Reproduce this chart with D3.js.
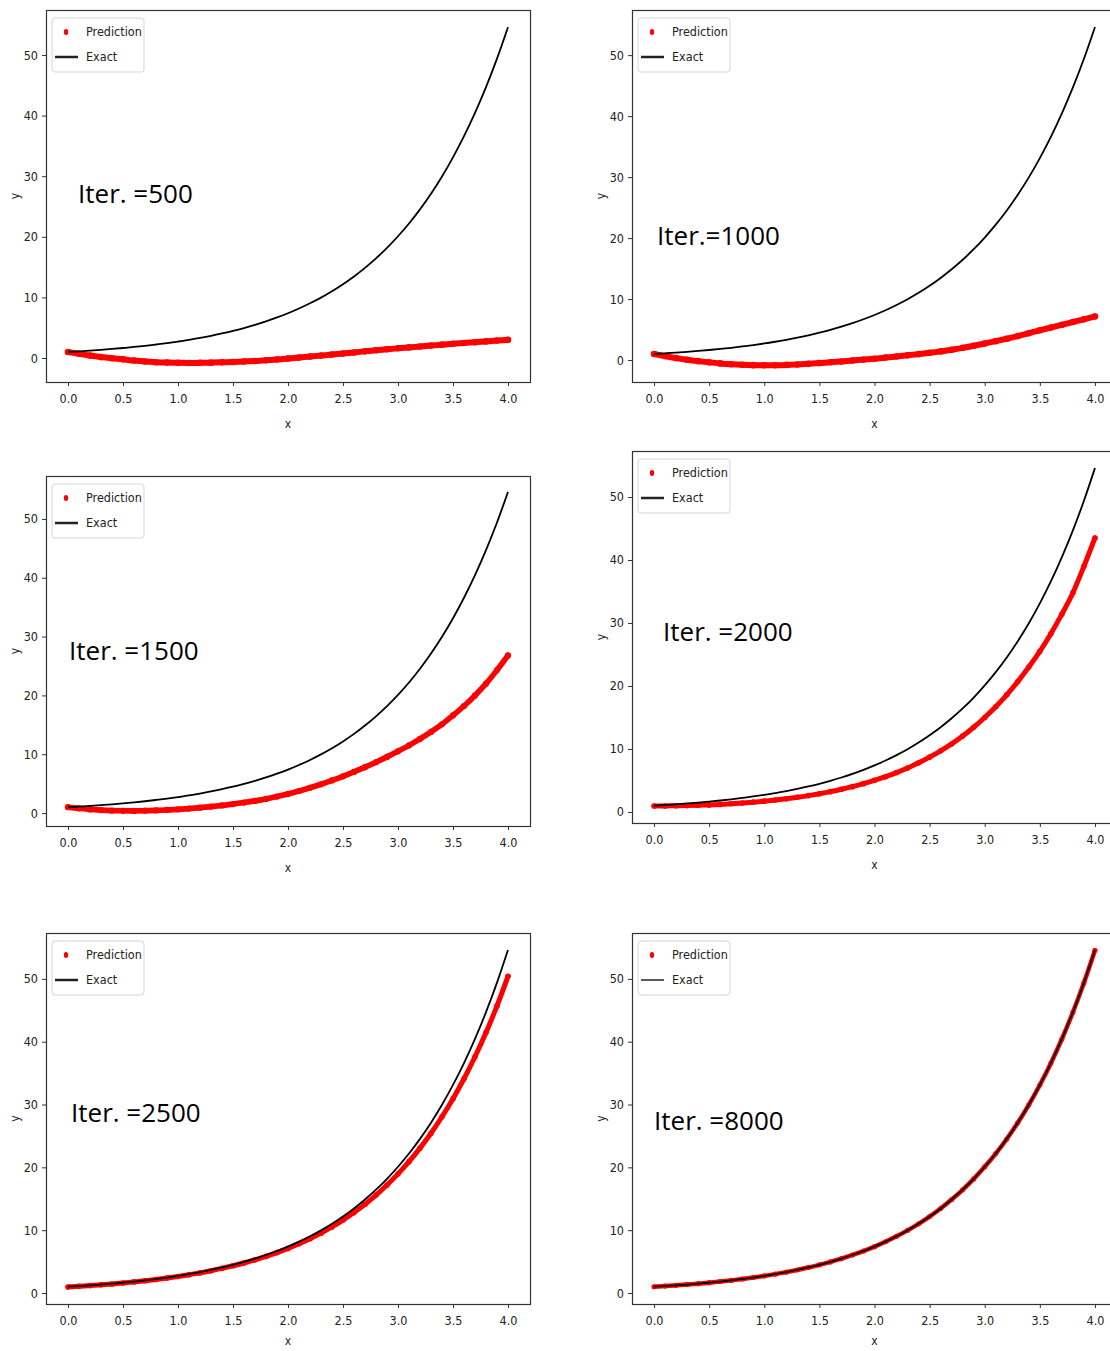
<!DOCTYPE html>
<html>
<head>
<meta charset="utf-8">
<script src="https://cdn.jsdelivr.net/npm/d3@7"></script>
<style>
body { margin: 0; background: #fff; }
svg text { font-family: "DejaVu Sans Condensed", "DejaVu Sans", sans-serif; fill: #222; }
svg text.iter { font-family: "Open Sans", "Noto Sans", sans-serif; fill: #000; }
</style>
</head>
<body>
<div id="chart"></div>
<script>
(function()
{
    // sample positions along x
    var xs = [0.0, 0.1, 0.2, 0.3, 0.4, 0.5, 0.6, 0.7, 0.8, 0.9,
              1.0, 1.1, 1.2, 1.3, 1.4, 1.5, 1.6, 1.7, 1.8, 1.9,
              2.0, 2.1, 2.2, 2.3, 2.4, 2.5, 2.6, 2.7, 2.8, 2.9,
              3.0, 3.1, 3.2, 3.3, 3.4, 3.5, 3.6, 3.7, 3.8, 3.9, 4.0];

    // exact solution (black curve)
    var exact = [1.00, 1.11, 1.22, 1.35, 1.49, 1.65, 1.82, 2.01, 2.23, 2.46,
                 2.72, 3.00, 3.32, 3.67, 4.06, 4.48, 4.95, 5.47, 6.05, 6.69,
                 7.39, 8.17, 9.03, 9.97, 11.02, 12.18, 13.46, 14.88, 16.44, 18.17,
                 20.09, 22.20, 24.53, 27.11, 29.96, 33.12, 36.60, 40.45, 44.70, 49.40, 54.60];

    // network predictions (red dots) per iteration count
    var pred500 = [1.00, 0.70, 0.40, 0.15, -0.05, -0.22, -0.42, -0.58, -0.69, -0.76,
                   -0.80, -0.82, -0.80, -0.77, -0.72, -0.66, -0.58, -0.49, -0.38, -0.24,
                   -0.10, 0.07, 0.23, 0.40, 0.57, 0.75, 0.92, 1.10, 1.27, 1.44,
                   1.60, 1.75, 1.90, 2.05, 2.20, 2.35, 2.48, 2.61, 2.74, 2.87, 3.00];

    var pred1000 = [1.00, 0.65, 0.32, 0.05, -0.18, -0.38, -0.55, -0.68, -0.78, -0.84,
                    -0.86, -0.85, -0.80, -0.72, -0.62, -0.50, -0.37, -0.23, -0.08, 0.07,
                    0.22, 0.40, 0.58, 0.77, 0.97, 1.18, 1.42, 1.70, 2.00, 2.35,
                    2.72, 3.10, 3.50, 3.93, 4.40, 4.88, 5.33, 5.78, 6.23, 6.68, 7.15];

    var pred1500 = [1.00, 0.80, 0.62, 0.50, 0.42, 0.38, 0.37, 0.40, 0.45, 0.53,
                    0.63, 0.76, 0.92, 1.10, 1.30, 1.52, 1.78, 2.07, 2.40, 2.80,
                    3.25, 3.75, 4.30, 4.90, 5.55, 6.25, 7.00, 7.80, 8.65, 9.55,
                    10.50, 11.50, 12.60, 13.80, 15.10, 16.60, 18.20, 20.00, 22.00, 24.30, 26.80];

    var pred2000 = [0.95, 0.96, 0.98, 1.01, 1.06, 1.12, 1.20, 1.30, 1.42, 1.56,
                    1.72, 1.90, 2.10, 2.33, 2.60, 2.90, 3.23, 3.60, 4.02, 4.50,
                    5.02, 5.60, 6.25, 6.98, 7.80, 8.70, 9.70, 10.80, 12.05, 13.45,
                    15.00, 16.70, 18.60, 20.70, 23.00, 25.50, 28.30, 31.40, 34.80, 39.00, 43.50];

    var pred2500 = [0.95, 1.07, 1.18, 1.31, 1.44, 1.60, 1.77, 1.95, 2.15, 2.38,
                    2.63, 2.91, 3.21, 3.55, 3.92, 4.33, 4.78, 5.28, 5.83, 6.43,
                    7.10, 7.83, 8.64, 9.53, 10.52, 11.60, 12.80, 14.12, 15.58, 17.19,
                    18.96, 20.91, 23.06, 25.43, 28.05, 30.93, 34.10, 37.60, 41.45, 45.70, 50.40];

    var pred8000 = [1.00, 1.10, 1.22, 1.35, 1.49, 1.65, 1.82, 2.01, 2.22, 2.46,
                    2.72, 3.00, 3.32, 3.67, 4.05, 4.48, 4.95, 5.47, 6.05, 6.68,
                    7.38, 8.16, 9.02, 9.97, 11.01, 12.17, 13.45, 14.87, 16.43, 18.16,
                    20.08, 22.19, 24.52, 27.10, 29.95, 33.10, 36.58, 40.43, 44.68, 49.38, 54.55];

    var predictions = [pred500, pred1000, pred1500, pred2000, pred2500, pred8000];
    var iterLabels = ['Iter. =500', 'Iter.=1000', 'Iter. =1500', 'Iter. =2000', 'Iter. =2500', 'Iter. =8000'];
    var xTicks = [0, 0.5, 1, 1.5, 2, 2.5, 3, 3.5, 4];
    var yTicks = [0, 10, 20, 30, 40, 50];
    var legendNames = ['Prediction', 'Exact'];

    // each sub-plot was pasted separately, so every frame has its own box
    var layout = [
        { left : 46,  top : 10,  right : 530,  bottom : 382,  y : [-3.96, 57.43], label : [78, 203],   legendLine : 2.5, band : 6 },
        { left : 632, top : 10,  right : 1117, bottom : 382,  y : [-3.60, 57.40], label : [657, 245],  legendLine : 2.5, band : 6 },
        { left : 46,  top : 476, right : 530,  bottom : 826,  y : [-2.20, 57.30], label : [69, 660],   legendLine : 2.5, band : 5.6 },
        { left : 632, top : 451, right : 1117, bottom : 823,  y : [-1.75, 57.30], label : [663, 641],  legendLine : 2.5, band : 5 },
        { left : 46,  top : 933, right : 530,  bottom : 1304, y : [-1.75, 57.30], label : [71, 1122],  legendLine : 2.5, band : 5 },
        { left : 632, top : 933, right : 1117, bottom : 1304, y : [-1.75, 57.30], label : [654, 1130], legendLine : 1.5, band : 4.5 }
    ];

    var svg = d3.select('#chart').append('svg')
        .attr('width', 1110)
        .attr('height', 1351)
        .style('display', 'block');

    svg.append('rect').attr('width', 1110).attr('height', 1351).attr('fill', '#fff');

    layout.forEach(function(p, i)
    {
        var x = d3.scaleLinear().domain([-0.2, 4.2]).range([p.left, p.right]),
            y = d3.scaleLinear().domain(p.y).range([p.bottom, p.top]),
            g = svg.append('g').attr('class', 'panel'),
            pred = predictions[i];

        var predPts = xs.map(function(v, k) { return [v, pred[k]]; }),
            exactPts = xs.map(function(v, k) { return [v, exact[k]]; });

        var line = d3.line()
            .x(function(d) { return x(d[0]); })
            .y(function(d) { return y(d[1]); })
            .curve(d3.curveMonotoneX);

        // prediction: dense red dots
        g.append('path')
            .datum(predPts)
            .attr('d', line)
            .attr('fill', 'none')
            .attr('stroke', '#ff0000')
            .attr('stroke-width', p.band)
            .attr('stroke-linecap', 'round');

        g.selectAll('circle.pred').data(predPts).enter().append('circle')
            .attr('class', 'pred')
            .attr('cx', function(d) { return x(d[0]); })
            .attr('cy', function(d) { return y(d[1]); })
            .attr('r', p.band / 2 + 0.3)
            .attr('fill', '#ff0000');

        // exact solution
        g.append('path')
            .datum(exactPts)
            .attr('d', line)
            .attr('fill', 'none')
            .attr('stroke', '#000')
            .attr('stroke-width', 1.8);

        // axes
        var xAxis = g.append('g')
            .attr('transform', 'translate(0,' + p.bottom + ')')
            .call(d3.axisBottom(x).tickValues(xTicks).tickFormat(d3.format('.1f')).tickSize(4).tickPadding(8));

        var yAxis = g.append('g')
            .attr('transform', 'translate(' + p.left + ',0)')
            .call(d3.axisLeft(y).tickValues(yTicks).tickFormat(d3.format('d')).tickSize(4).tickPadding(4));

        [xAxis, yAxis].forEach(function(a)
        {
            a.select('.domain').remove();
            a.selectAll('line').attr('stroke', '#333');
            a.selectAll('text').attr('font-size', 12.5).attr('fill', '#222')
                .style('font-family', '"DejaVu Sans Condensed", "DejaVu Sans", sans-serif');
        });

        g.append('text')
            .attr('x', (x(0) + x(4)) / 2)
            .attr('y', Math.min(p.bottom + 46, 1345))
            .attr('text-anchor', 'middle')
            .attr('font-size', 12)
            .text('x');

        g.append('text')
            .attr('transform', 'translate(' + (p.left - 27) + ',' + ((p.top + p.bottom) / 2) + ') rotate(-90)')
            .attr('text-anchor', 'middle')
            .attr('font-size', 12)
            .text('y');

        // frame
        g.append('rect')
            .attr('x', p.left + 0.5)
            .attr('y', p.top + 0.5)
            .attr('width', p.right - p.left)
            .attr('height', p.bottom - p.top)
            .attr('fill', 'none')
            .attr('stroke', '#333')
            .attr('stroke-width', 1.2);

        // legend
        var lg = g.append('g').attr('transform', 'translate(' + (p.left + 6) + ',' + (p.top + 8) + ')');

        lg.append('rect')
            .attr('width', 92)
            .attr('height', 54)
            .attr('rx', 3)
            .attr('fill', '#fff')
            .attr('stroke', '#d6d6d6');

        lg.append('ellipse')
            .attr('cx', 14).attr('cy', 14)
            .attr('rx', 2.2).attr('ry', 3)
            .attr('fill', '#ff0000');

        lg.append('line')
            .attr('x1', 3).attr('x2', 26)
            .attr('y1', 39).attr('y2', 39)
            .attr('stroke', '#222')
            .attr('stroke-width', p.legendLine);

        lg.selectAll('text.name').data(legendNames).enter().append('text')
            .attr('class', 'name')
            .attr('x', 34)
            .attr('y', function(d, k) { return 14 + k * 25; })
            .attr('dy', '0.35em')
            .attr('font-size', 12.5)
            .text(function(d) { return d; });

        g.append('text')
            .attr('class', 'iter')
            .attr('x', p.label[0])
            .attr('y', p.label[1])
            .attr('font-size', 26)
            .text(iterLabels[i]);
    });
})();
</script>
</body>
</html>
